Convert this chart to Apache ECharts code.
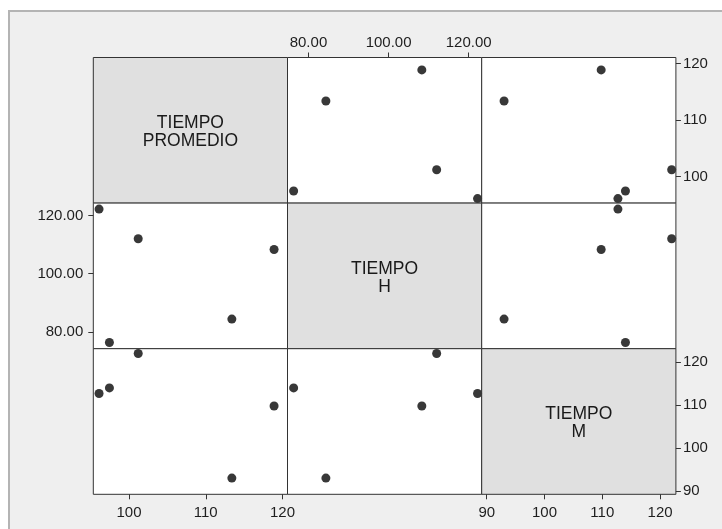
<!DOCTYPE html>
<html>
<head>
<meta charset="utf-8">
<script src="https://cdn.jsdelivr.net/npm/echarts@6/dist/echarts.min.js"></script>
<style>
  html, body { margin: 0; padding: 0; background: #ffffff; }
  #wrap { position: relative; width: 722px; height: 529px; overflow: hidden; background: #ffffff; }
  #panel { position: absolute; left: 8px; top: 10px; width: 720px; height: 525px;
           background: #efefef; border-left: 2px solid #b4b4b4; border-top: 2px solid #b4b4b4; }
  #chart { position: absolute; left: 0; top: 0; width: 722px; height: 529px; }
</style>
</head>
<body>
<div id="wrap">
  <div id="panel"></div>
  <div id="chart"></div>
</div>
<script>
// ---- data ----
const variables = ['TIEMPO\nPROMEDIO', 'TIEMPO\nH', 'TIEMPO\nM'];
const tiempoPromedio = [96.1, 97.45, 101.2, 113.4, 118.9];
const tiempoH = [122.2, 76.3, 112.0, 84.35, 108.3];
const tiempoM = [112.7, 114.0, 122.0, 93.0, 109.8];
const ticksPromedio = [100, 110, 120];
const ticksH = [80, 100, 120];
const ticksM = [90, 100, 110, 120];

const values = [tiempoPromedio, tiempoH, tiempoM];
const ticks = [ticksPromedio, ticksH, ticksM];
const decimals = [0, 2, 0];

// ---- axis ranges (as horizontal / vertical axis) ----
const xRange = [[95.35, 120.65], [74.77, 123.24], [89.13, 122.73]];
const yRange = [[95.3, 121.1], [74.17, 124.25], [89.23, 123.13]];

// ---- layout ----
const LEFT = 93.3, TOP = 57.5, CW = 194.2, CH = 145.6;
const FONT = "'Liberation Sans', Arial, sans-serif";
const N = 3;

const grids = [], xAxes = [], yAxes = [], series = [], graphics = [];
for (let r = 0; r < N; r++) {
  for (let c = 0; c < N; c++) {
    const k = r * N + c;
    grids.push({
      left: LEFT + c * CW, top: TOP + r * CH, width: CW, height: CH,
      show: true,
      backgroundColor: r === c ? '#e0e0e0' : '#ffffff',
      borderColor: '#333333', borderWidth: 1
    });
    const showX = (r === N - 1 && (c === 0 || c === 2)) || (r === 0 && c === 1);
    const showY = (c === N - 1 && (r === 0 || r === 2)) || (c === 0 && r === 1);
    const xd = decimals[c], yd = decimals[r];
    xAxes.push({
      type: 'value', gridIndex: k,
      min: xRange[c][0], max: xRange[c][1],
      position: r === 0 ? 'top' : 'bottom',
      axisLine: { show: false },
      splitLine: { show: false },
      axisTick: { show: showX, length: 5, customValues: ticks[c], lineStyle: { color: '#333333' } },
      axisLabel: {
        show: showX, customValues: ticks[c], margin: r === 0 ? 7 : 11,
        color: '#1e1e1e', fontSize: 15, fontFamily: FONT,
        formatter: v => Number(v).toFixed(xd)
      }
    });
    yAxes.push({
      type: 'value', gridIndex: k,
      min: yRange[r][0], max: yRange[r][1],
      position: c === N - 1 ? 'right' : 'left',
      axisLine: { show: false },
      splitLine: { show: false },
      axisTick: { show: showY, length: 5, customValues: ticks[r], lineStyle: { color: '#333333' } },
      axisLabel: {
        show: showY, customValues: ticks[r], margin: c === N - 1 ? 7 : 10,
        color: '#1e1e1e', fontSize: 15, fontFamily: FONT,
        formatter: v => Number(v).toFixed(yd)
      }
    });
    if (r === c) {
      graphics.push({
        type: 'text', z: 100,
        x: LEFT + c * CW + CW / 2, y: TOP + r * CH + CH / 2 + 2,
        style: {
          text: variables[r], fill: '#1a1a1a', font: '17.5px ' + FONT,
          align: 'center', verticalAlign: 'middle', lineHeight: 18
        }
      });
    } else {
      series.push({
        type: 'scatter', xAxisIndex: k, yAxisIndex: k,
        symbolSize: 9, itemStyle: { color: '#383838', opacity: 1 },
        data: values[c].map((v, i) => [v, values[r][i]]),
        silent: true
      });
    }
  }
}

const chart = echarts.init(document.getElementById('chart'), null, { renderer: 'canvas' });
chart.setOption({
  animation: false,
  backgroundColor: 'transparent',
  grid: grids, xAxis: xAxes, yAxis: yAxes, series: series,
  graphic: graphics
});
</script>
</body>
</html>
